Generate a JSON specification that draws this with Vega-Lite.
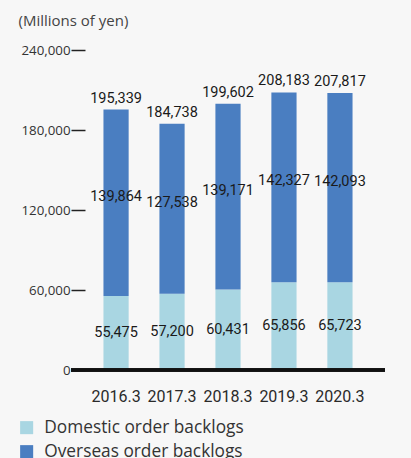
{
  "$schema": "https://vega.github.io/schema/vega-lite/v6.json",
  "width": 314,
  "height": 320,
  "autosize": "none",
  "padding": {"left": 71, "top": 50, "right": 26, "bottom": 88},
  "background": "#f7f7f7",
  "config": {"view": {"stroke": null}},
  "data": {
    "values": [
      {"year": "2016.3", "domestic": 55475, "overseas": 139864, "total": 195339},
      {"year": "2017.3", "domestic": 57200, "overseas": 127538, "total": 184738},
      {"year": "2018.3", "domestic": 60431, "overseas": 139171, "total": 199602},
      {"year": "2019.3", "domestic": 65856, "overseas": 142327, "total": 208183},
      {"year": "2020.3", "domestic": 65723, "overseas": 142093, "total": 207817}
    ]
  },
  "layer": [
    {
      "transform": [{"fold": ["domestic", "overseas"], "as": ["type", "value"]}],
      "mark": {"type": "bar"},
      "encoding": {
        "x": {
          "field": "year", "type": "ordinal",
          "scale": {"paddingInner": 0.55, "paddingOuter": 0.58},
          "axis": {
            "title": null, "domain": false, "ticks": false, "labelAngle": 0,
            "labelFont": "Roboto",
            "labelFontSize": 16, "labelColor": "#2a2a2a", "labelPadding": 18
          }
        },
        "y": {
          "field": "value", "type": "quantitative", "stack": "zero",
          "scale": {"domain": [0, 240000], "nice": false},
          "axis": {
            "values": [0, 60000, 120000, 180000, 240000],
            "format": ",.0f",
            "grid": false, "domain": false,
            "offset": -14, "tickSize": 14, "tickWidth": 1.5, "tickColor": "#222",
            "labelFont": "Open Sans", "labelFontSize": 13.3, "labelColor": "#333",
            "labelPadding": 1,
            "title": "(Millions of yen)", "titleAngle": 0, "titleFont": "Open Sans",
            "titleFontSize": 15, "titleFontWeight": "normal", "titleColor": "#444",
            "titleAlign": "left", "titleBaseline": "alphabetic",
            "titleX": -67, "titleY": -25
          }
        },
        "order": {"field": "type", "sort": "ascending"},
        "color": {
          "field": "type", "type": "nominal",
          "scale": {"domain": ["domestic", "overseas"], "range": ["#a9d6e2", "#4a7ec1"]},
          "legend": {
            "title": null, "orient": "none", "legendX": -53, "legendY": 369,
            "symbolType": "square", "symbolSize": 170, "symbolStrokeWidth": 0,
            "labelExpr": "datum.label == 'domestic' ? 'Domestic order backlogs' : 'Overseas order backlogs'",
            "labelFont": "Open Sans", "labelFontSize": 17.3, "labelColor": "#333",
            "labelLimit": 400, "labelOffset": 9, "rowPadding": 6
          }
        }
      }
    },
    {
      "mark": {"type": "rule", "strokeWidth": 3, "color": "#111"},
      "encoding": {"y": {"datum": 0}}
    },
    {
      "transform": [{"calculate": "datum.domestic / 2", "as": "dmid"}],
      "mark": {"type": "text", "font": "Roboto", "fontSize": 14.5, "color": "#1a1a1a", "baseline": "middle"},
      "encoding": {
        "x": {"field": "year", "type": "ordinal"},
        "y": {"field": "dmid", "type": "quantitative"},
        "text": {"field": "domestic", "type": "quantitative", "format": ",.0f"}
      }
    },
    {
      "transform": [{"calculate": "datum.domestic + datum.overseas / 2", "as": "omid"}],
      "mark": {"type": "text", "font": "Roboto", "fontSize": 14.5, "color": "#1a1a1a", "baseline": "middle", "dy": -6},
      "encoding": {
        "x": {"field": "year", "type": "ordinal"},
        "y": {"field": "omid", "type": "quantitative"},
        "text": {"field": "overseas", "type": "quantitative", "format": ",.0f"}
      }
    },
    {
      "mark": {"type": "text", "font": "Roboto", "fontSize": 14.5, "color": "#1a1a1a", "baseline": "alphabetic", "dy": -7},
      "encoding": {
        "x": {"field": "year", "type": "ordinal"},
        "y": {"field": "total", "type": "quantitative"},
        "text": {"field": "total", "type": "quantitative", "format": ",.0f"}
      }
    }
  ]
}
